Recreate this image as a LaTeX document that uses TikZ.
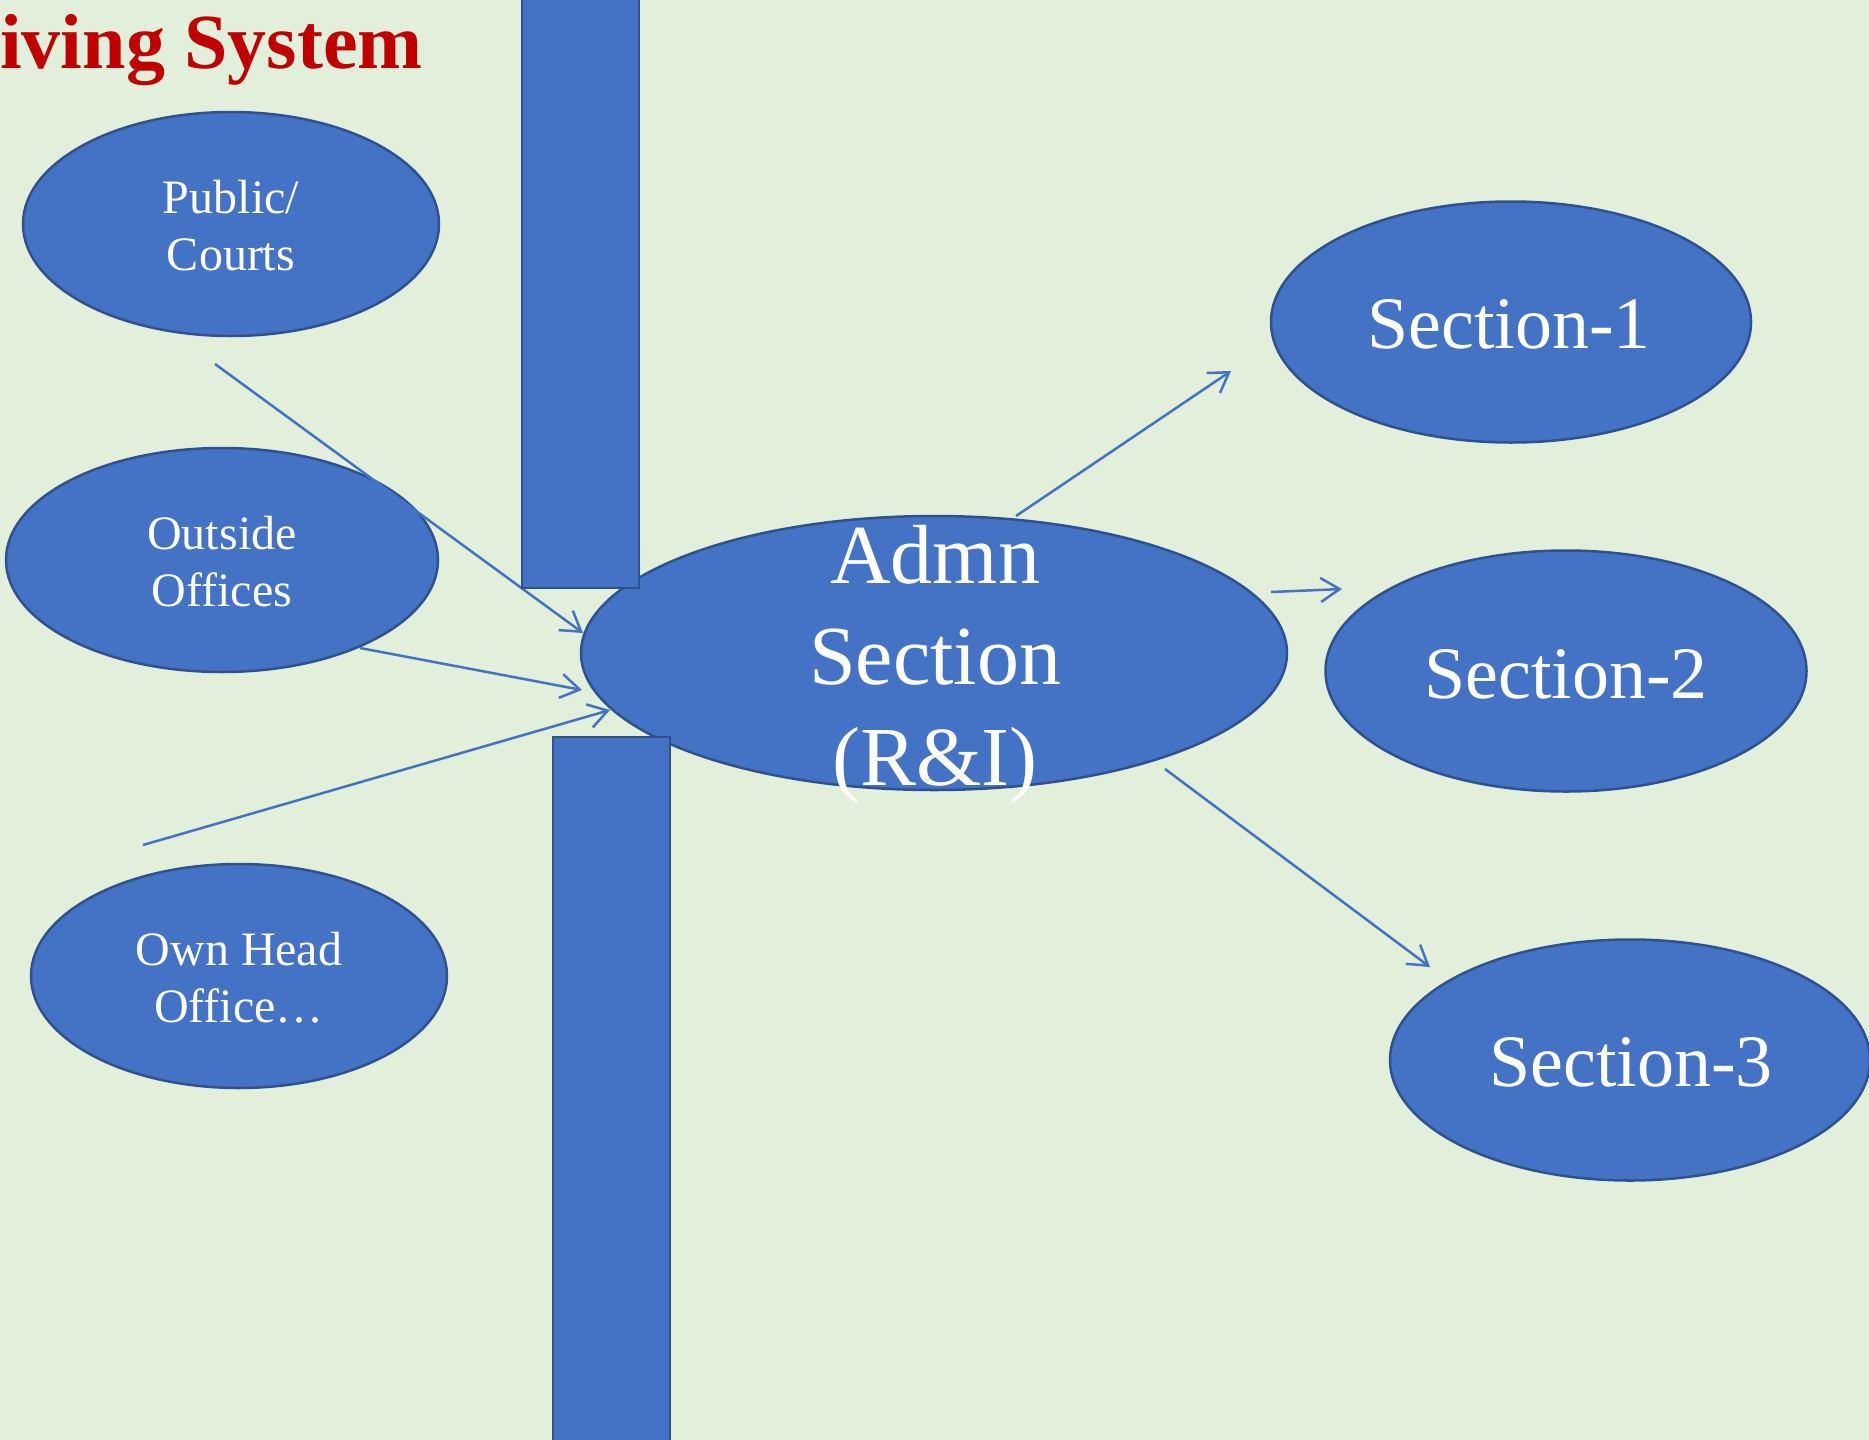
\documentclass[tikz,border=0pt]{standalone}
\usepackage{fontspec}
\setmainfont{Liberation Serif}
\usetikzlibrary{shapes.geometric,arrows.meta}
\definecolor{bg}{HTML}{E2EFDA}
\definecolor{blu}{HTML}{4472C4}
\definecolor{blubd}{HTML}{2F528F}
\definecolor{ttl}{HTML}{C00000}
\begin{document}
\begin{tikzpicture}[x=1pt,y=-1pt,
  oval/.style={ellipse,fill=blu,draw=blubd,line width=2.5pt,inner sep=0pt},
  bar/.style={fill=blu,draw=blubd,line width=2.5pt},
  link/.style={draw=blu,line width=2.5pt,-{Straight Barb[length=19pt,width=24pt,line width=2.5pt]}},
  lbl/.style={text=white,align=center,inner sep=0pt},
  small/.style={lbl,font=\fontsize{48}{57}\selectfont},
  big/.style={lbl,font=\fontsize{74}{85}\selectfont},
  huge/.style={lbl,font=\fontsize{84}{101}\selectfont},
]
\clip (0,0) rectangle (1869,1440);
\fill[bg] (0,0) rectangle (1869,1440);

% title (cut at the left edge, as in the reference)
\node[anchor=base east,inner sep=0pt,text=ttl,font=\fontsize{78}{90}\selectfont\bfseries] (title) at (423,68) {Receiving System};

% ellipses
\node[oval,minimum width=416pt,minimum height=224pt] (pub) at (231,224) {};
\node[oval,minimum width=432pt,minimum height=224pt] (out) at (222,560) {};
\node[oval,minimum width=416pt,minimum height=224pt] (own) at (239,976) {};
\node[oval,minimum width=706pt,minimum height=274pt] (admn) at (934,653) {};
\node[oval,minimum width=480pt,minimum height=241pt] (s1) at (1511,322) {};
\node[oval,minimum width=481pt,minimum height=241pt] (s2) at (1566,671) {};
\node[oval,minimum width=480pt,minimum height=241pt] (s3) at (1630,1060) {};

% labels
\node[small] (tpub) at (231,226) {Public/\\Courts};
\node[small] (tout) at (222,562) {Outside\\Offices};
\node[small] (town) at (239,978) {Own Head\\Office\ldots};
\node[huge] (tadmn) at (935,664) {Admn\\Section\\(R\&I)};
\node[big] (ts1) at (1509,324) {Section-1};
\node[big] (ts2) at (1566,674) {Section-2};
\node[big] (ts3) at (1631,1062) {Section-3};

% connector ends
\coordinate (p1) at (215,364);  \coordinate (q1) at (583,633);
\coordinate (p2) at (360,648);  \coordinate (q2) at (582,690);
\coordinate (p3) at (143,845);  \coordinate (q3) at (610,710);
\coordinate (p4) at (1016,516); \coordinate (q4) at (1231,371);
\coordinate (p5) at (1271,592); \coordinate (q5) at (1342,589);
\coordinate (p6) at (1165,769); \coordinate (q6) at (1430,967);

\draw[link] (p1) -- (q1);
\draw[link] (p2) -- (q2);
\draw[link] (p3) -- (q3);
\draw[link] (p4) -- (q4);
\draw[link] (p5) -- (q5);
\draw[link] (p6) -- (q6);

% walls
\draw[bar] (522,-10) rectangle (639,588);
\draw[bar] (553,737) rectangle (670,1450);
\end{tikzpicture}
\end{document}
